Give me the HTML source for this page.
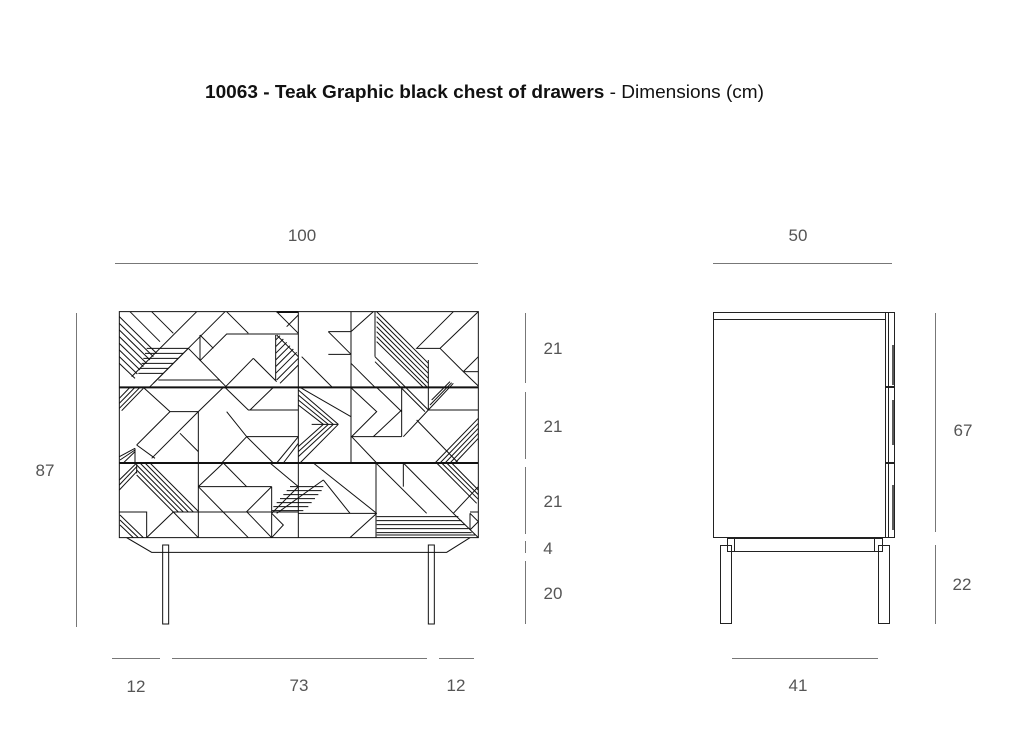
<!DOCTYPE html>
<html><head><meta charset="utf-8"><style>
html,body{margin:0;padding:0;background:#fff;}
svg{display:block;}
.n line,.n polyline,.n rect,.n path{vector-effect:non-scaling-stroke;}
</style></head><body>
<svg width="1013" height="736" viewBox="0 0 1013 736" xmlns="http://www.w3.org/2000/svg">
<text x="205" y="98" font-family="Liberation Sans, sans-serif" font-size="18" fill="#111" textLength="559" lengthAdjust="spacingAndGlyphs"><tspan font-weight="bold">10063 - Teak Graphic black chest of drawers</tspan> - Dimensions (cm)</text>

<g stroke="#777" stroke-width="1" fill="none">
<line x1="115" y1="263.5" x2="478" y2="263.5"/>
<line x1="76.5" y1="313" x2="76.5" y2="627"/>
<line x1="525.5" y1="313" x2="525.5" y2="383"/>
<line x1="525.5" y1="392" x2="525.5" y2="459"/>
<line x1="525.5" y1="467" x2="525.5" y2="534"/>
<line x1="525.5" y1="541" x2="525.5" y2="553"/>
<line x1="525.5" y1="561" x2="525.5" y2="624"/>
<line x1="112" y1="658.5" x2="160" y2="658.5"/>
<line x1="172" y1="658.5" x2="427" y2="658.5"/>
<line x1="439" y1="658.5" x2="474" y2="658.5"/>
<line x1="713" y1="263.5" x2="892" y2="263.5"/>
<line x1="935.5" y1="313" x2="935.5" y2="532"/>
<line x1="935.5" y1="545" x2="935.5" y2="624"/>
<line x1="732" y1="658.5" x2="878" y2="658.5"/>
</g>
<g font-family="Liberation Sans, sans-serif" font-size="17" fill="#555" text-anchor="middle">
<text x="302" y="241">100</text>
<text x="45" y="476">87</text>
<text x="553" y="354">21</text>
<text x="553" y="432">21</text>
<text x="553" y="507">21</text>
<text x="548" y="554">4</text>
<text x="553" y="599">20</text>
<text x="136" y="692">12</text>
<text x="299" y="691">73</text>
<text x="456" y="691">12</text>
<text x="798" y="241">50</text>
<text x="963" y="436">67</text>
<text x="962" y="590">22</text>
<text x="798" y="691">41</text>
</g>

<g class="n" transform="translate(110,300) scale(0.33333)" stroke="#111" stroke-width="1" fill="none">
<rect x="28" y="35" width="1077" height="678"/>
<line x1="28" y1="262" x2="1105" y2="262" stroke-width="2"/>
<line x1="28" y1="489" x2="1105" y2="489" stroke-width="2"/>
<polyline points="50,713 125,757 1010,757 1080,713"/>
<rect x="158" y="735" width="18" height="237"/>
<rect x="955" y="735" width="18" height="237"/>
<line x1="28" y1="50" x2="140" y2="160"/><line x1="28" y1="70" x2="130" y2="170"/><line x1="28" y1="90" x2="120" y2="180"/><line x1="28" y1="110" x2="110" y2="190"/><line x1="28" y1="130" x2="100" y2="200"/><line x1="28" y1="150" x2="90" y2="210"/><line x1="28" y1="170" x2="82" y2="222"/><line x1="28" y1="190" x2="75" y2="235"/><line x1="60" y1="35" x2="150" y2="125"/>
<line x1="125" y1="35" x2="190" y2="100"/><line x1="260" y1="35" x2="65" y2="230"/><line x1="345" y1="35" x2="130" y2="250"/>
<line x1="110" y1="145" x2="235" y2="145"/><line x1="105" y1="160" x2="220" y2="160"/><line x1="100" y1="175" x2="205" y2="175"/><line x1="95" y1="190" x2="190" y2="190"/><line x1="90" y1="205" x2="175" y2="205"/><line x1="85" y1="220" x2="160" y2="220"/>
<line x1="145" y1="240" x2="330" y2="240"/><line x1="235" y1="145" x2="350" y2="262"/><line x1="235" y1="145" x2="118" y2="262"/>
<line x1="270" y1="105" x2="270" y2="182"/><line x1="270" y1="105" x2="310" y2="145"/><polyline points="270,182 350,102 565,102"/>
<line x1="350" y1="35" x2="415" y2="100"/><line x1="500" y1="35" x2="565" y2="100"/><line x1="500" y1="36" x2="565" y2="36" stroke-width="2"/><line x1="530" y1="80" x2="565" y2="45"/>
<line x1="430" y1="175" x2="345" y2="262"/><line x1="430" y1="175" x2="500" y2="245"/><line x1="497" y1="105" x2="497" y2="240"/>
<line x1="497" y1="120" x2="510" y2="107"/><line x1="497" y1="140" x2="520" y2="117"/><line x1="497" y1="160" x2="530" y2="127"/><line x1="497" y1="180" x2="540" y2="137"/><line x1="497" y1="200" x2="550" y2="147"/><line x1="497" y1="220" x2="560" y2="157"/><line x1="500" y1="240" x2="565" y2="175"/><line x1="510" y1="250" x2="565" y2="195"/><line x1="500" y1="105" x2="565" y2="170"/>
<line x1="565" y1="35" x2="565" y2="713"/>
<polyline points="655,95 723,95"/><line x1="655" y1="95" x2="723" y2="163"/><line x1="655" y1="163" x2="723" y2="163"/><line x1="723" y1="35" x2="723" y2="489"/><line x1="575" y1="170" x2="667" y2="262"/>
<line x1="723" y1="95" x2="790" y2="35"/><line x1="723" y1="190" x2="795" y2="262"/>
<line x1="795" y1="35" x2="795" y2="170"/>
<line x1="800" y1="35" x2="955" y2="190"/><line x1="800" y1="50" x2="955" y2="205"/><line x1="800" y1="65" x2="955" y2="220"/><line x1="800" y1="80" x2="955" y2="235"/><line x1="800" y1="95" x2="955" y2="250"/><line x1="800" y1="110" x2="950" y2="260"/><line x1="800" y1="125" x2="940" y2="262"/>
<line x1="795" y1="170" x2="955" y2="330"/><line x1="795" y1="185" x2="945" y2="335"/>
<polyline points="1030,35 920,145 990,145 1105,35"/><line x1="990" y1="145" x2="1060" y2="215"/><line x1="955" y1="180" x2="955" y2="330"/><line x1="1060" y1="215" x2="1105" y2="215"/><line x1="1105" y1="170" x2="1060" y2="215"/>
<line x1="955" y1="330" x2="1030" y2="250"/><line x1="960" y1="315" x2="1025" y2="248"/><line x1="965" y1="300" x2="1020" y2="245"/><line x1="1060" y1="215" x2="1105" y2="258"/>
<line x1="28" y1="310" x2="75" y2="262"/><line x1="28" y1="325" x2="90" y2="262"/><line x1="35" y1="332" x2="100" y2="265"/><line x1="28" y1="295" x2="60" y2="262"/>
<polyline points="100,262 180,335 265,335"/><line x1="265" y1="335" x2="265" y2="489"/><line x1="265" y1="335" x2="340" y2="262"/><line x1="180" y1="335" x2="80" y2="435"/><line x1="265" y1="335" x2="125" y2="475"/><line x1="210" y1="400" x2="265" y2="455"/><line x1="80" y1="435" x2="135" y2="475"/>
<line x1="30" y1="480" x2="75" y2="450"/><line x1="40" y1="489" x2="75" y2="455"/><line x1="28" y1="470" x2="75" y2="445"/><line x1="75" y1="445" x2="75" y2="489"/>
<polyline points="345,262 415,330 565,330"/><polyline points="350,335 410,410 565,410"/><line x1="410" y1="410" x2="335" y2="489"/><line x1="490" y1="262" x2="420" y2="330"/><line x1="410" y1="410" x2="490" y2="489"/>
<line x1="565" y1="270" x2="685" y2="373"/><line x1="565" y1="285" x2="670" y2="373"/><line x1="565" y1="300" x2="655" y2="373"/><line x1="565" y1="315" x2="640" y2="373"/><line x1="570" y1="262" x2="723" y2="350"/><line x1="605" y1="373" x2="685" y2="373"/>
<line x1="685" y1="373" x2="570" y2="489"/><line x1="670" y1="373" x2="565" y2="470"/><line x1="655" y1="373" x2="565" y2="455"/><line x1="640" y1="373" x2="565" y2="440"/><line x1="500" y1="489" x2="565" y2="410"/><line x1="520" y1="489" x2="565" y2="430"/>
<polyline points="725,265 800,335 725,410"/><line x1="725" y1="410" x2="875" y2="410"/><line x1="725" y1="410" x2="800" y2="489"/><line x1="875" y1="262" x2="875" y2="410"/><line x1="790" y1="410" x2="875" y2="330"/><line x1="800" y1="262" x2="875" y2="335"/>
<line x1="955" y1="330" x2="1105" y2="330"/><line x1="920" y1="360" x2="1045" y2="489"/><line x1="880" y1="410" x2="955" y2="330"/>
<line x1="1105" y1="355" x2="975" y2="489"/><line x1="1105" y1="370" x2="990" y2="489"/><line x1="1105" y1="385" x2="1005" y2="489"/><line x1="1105" y1="400" x2="1020" y2="489"/><line x1="1105" y1="415" x2="1035" y2="489"/>
<line x1="28" y1="540" x2="80" y2="489"/><line x1="28" y1="555" x2="80" y2="500"/><line x1="28" y1="570" x2="80" y2="515"/><line x1="80" y1="489" x2="80" y2="520"/>
<line x1="80" y1="495" x2="220" y2="636"/><line x1="80" y1="510" x2="205" y2="636"/><line x1="90" y1="489" x2="235" y2="636"/><line x1="105" y1="489" x2="250" y2="636"/><line x1="120" y1="489" x2="265" y2="634"/><line x1="80" y1="525" x2="190" y2="636"/>
<polyline points="28,636 110,636 110,713"/><line x1="30" y1="645" x2="100" y2="713"/><line x1="30" y1="660" x2="85" y2="713"/><line x1="30" y1="675" x2="70" y2="713"/>
<polyline points="110,713 190,636 265,713"/><line x1="190" y1="636" x2="565" y2="636"/>
<line x1="265" y1="489" x2="265" y2="713"/><line x1="265" y1="560" x2="340" y2="489"/><line x1="265" y1="560" x2="485" y2="560"/><line x1="340" y1="489" x2="410" y2="560"/><line x1="480" y1="489" x2="565" y2="560"/><line x1="265" y1="560" x2="415" y2="713"/><line x1="485" y1="560" x2="485" y2="713"/><polyline points="485,560 410,635 485,713"/><polyline points="485,640 520,675 485,713"/>
<line x1="540" y1="560" x2="640" y2="560"/><line x1="530" y1="572" x2="635" y2="572"/><line x1="520" y1="584" x2="625" y2="584"/><line x1="510" y1="596" x2="615" y2="596"/><line x1="500" y1="608" x2="605" y2="608"/><line x1="490" y1="620" x2="595" y2="620"/><line x1="485" y1="632" x2="580" y2="632"/><line x1="485" y1="640" x2="565" y2="560"/>
<line x1="565" y1="640" x2="800" y2="640"/><line x1="640" y1="540" x2="500" y2="640"/><line x1="640" y1="540" x2="720" y2="640"/><line x1="720" y1="713" x2="800" y2="640"/><line x1="610" y1="489" x2="800" y2="640"/>
<line x1="798" y1="489" x2="798" y2="713"/><line x1="798" y1="489" x2="950" y2="640"/><line x1="880" y1="489" x2="880" y2="560"/><line x1="880" y1="489" x2="1030" y2="640"/>
<line x1="980" y1="489" x2="1100" y2="610"/><line x1="995" y1="489" x2="1105" y2="598"/><line x1="1010" y1="489" x2="1105" y2="584"/><line x1="1025" y1="489" x2="1105" y2="570"/><line x1="1030" y1="640" x2="1105" y2="560"/>
<line x1="800" y1="650" x2="1045" y2="650"/><line x1="800" y1="662" x2="1055" y2="662"/><line x1="800" y1="674" x2="1065" y2="674"/><line x1="800" y1="686" x2="1075" y2="686"/><line x1="800" y1="698" x2="1085" y2="698"/><line x1="800" y1="705" x2="1095" y2="705"/><line x1="1030" y1="640" x2="1105" y2="713"/>
<line x1="1080" y1="640" x2="1080" y2="690"/><polyline points="1080,640 1105,665 1080,690"/><line x1="1080" y1="636" x2="1105" y2="636"/>
</g>

<g stroke="#222" stroke-width="1" fill="none">
<rect x="713.5" y="312.5" width="172" height="225"/>
<line x1="713" y1="319.5" x2="885" y2="319.5"/>
<rect x="885.5" y="312.5" width="9" height="225"/>
<line x1="888.5" y1="312" x2="888.5" y2="538"/>
<line x1="885" y1="387" x2="895" y2="387" stroke-width="2"/>
<line x1="885" y1="463" x2="895" y2="463" stroke-width="2"/>
<line x1="893" y1="345" x2="893" y2="385" stroke-width="1.5"/>
<line x1="893" y1="400" x2="893" y2="445" stroke-width="1.5"/>
<line x1="893" y1="485" x2="893" y2="530" stroke-width="1.5"/>
<rect x="727.5" y="538.5" width="155" height="13"/>
<line x1="734.5" y1="538" x2="734.5" y2="552"/>
<line x1="874.5" y1="538" x2="874.5" y2="552"/>
<rect x="720.5" y="545.5" width="11" height="78"/>
<rect x="878.5" y="545.5" width="11" height="78"/>
</g>
</svg>
</body></html>
